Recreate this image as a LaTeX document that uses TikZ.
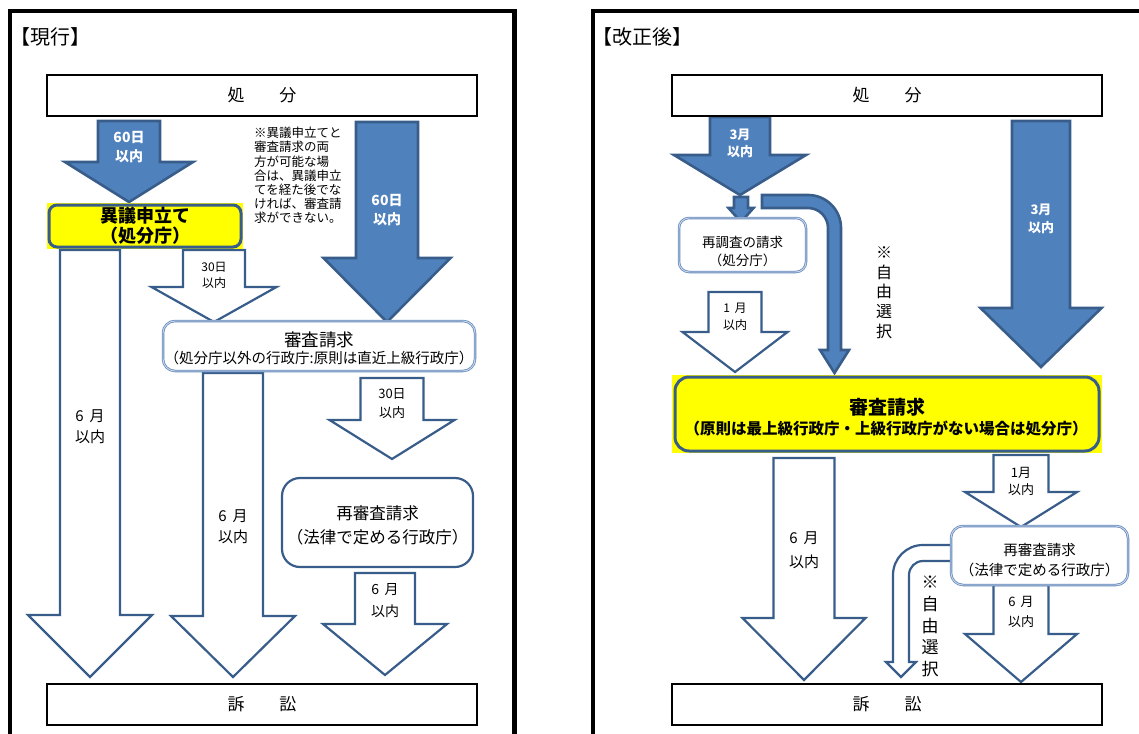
\documentclass[tikz,border=0pt]{standalone}
\usepackage{fontspec}
\setmainfont{Noto Sans CJK JP}
\definecolor{cBlue}{HTML}{4F81BD}
\definecolor{cEdge}{HTML}{385D8A}
\definecolor{cThin}{HTML}{6A8CBE}
\definecolor{cThinIn}{HTML}{C9D7EA}
\definecolor{cYel}{HTML}{FFFF00}
\newcommand{\fsz}[2]{\fontsize{#1}{#2}\selectfont}
\newcommand{\gp}{\hspace{0.4em}}
% style, cx, shaft half width, head half width, top, head start, tip
\newcommand{\myarrow}[7]{%
  \draw[#1] (#2-#3,#5) -- (#2+#3,#5) -- (#2+#3,#6) -- (#2+#4,#6) -- (#2,#7)
    -- (#2-#4,#6) -- (#2-#3,#6) -- cycle;}
\tikzset{
  frame/.style={draw=black, line width=4.5pt},
  blackbox/.style={draw=black, line width=2pt, fill=white},
  barrow/.style={fill=cBlue, draw=cEdge, line width=2.6pt, line join=miter},
  warrow/.style={fill=white, draw=cEdge, line width=2.2pt, line join=miter},
  thinbox/.style={draw=cThin, double=cThinIn, double distance=0.9pt, line width=0.8pt, fill=white},
  thickbox/.style={draw=cEdge, line width=2.2pt, fill=white},
  yelbox/.style={draw=cEdge, line width=3pt, fill=cYel},
  lbl/.style={inner sep=0pt, align=center},
  wlbl/.style={lbl, text=white, font=\bfseries\fsz{14}{19}},
}
\begin{document}
\begin{tikzpicture}[x=1pt, y=-1pt]
\useasboundingbox (0,0) rectangle (1139,733);

% ---------- frames ----------
\draw[frame] (10,740) -- (10,11) -- (514.5,11) -- (514.5,740);
\draw[frame] (593,740) -- (593,11) -- (1150,11);
\node[lbl, anchor=west, font=\fsz{20}{20}] (t1) at (10,37) {【現行】};
\node[lbl, anchor=west, font=\fsz{20}{20}] (t2) at (592,37) {【改正後】};

% ================= LEFT PANEL =================
\myarrow{barrow}{129}{31}{64}{121}{162}{202}
\myarrow{barrow}{387}{31}{63.5}{122}{258}{322}
\myarrow{warrow}{90}{30}{62}{250}{615}{677}
\myarrow{warrow}{214}{31}{62.5}{250}{287}{322}
\myarrow{warrow}{233}{30}{62}{373}{616}{677}
\myarrow{warrow}{392}{31.5}{62.5}{378}{420}{459}
\myarrow{warrow}{385}{30}{62}{573}{624}{675}

\node[blackbox, minimum width=430, minimum height=41, font=\fsz{17}{17}] (shobunL) at (262,95.5) {処\hspace{35pt}分};
\fill[cYel] (47,203) rectangle (243,249);
\draw[yelbox, rounded corners=8pt] (49,205) rectangle (241,247);
\node[lbl, font=\bfseries\fsz{18}{20}] (igi) at (145,226) {異議申立て\\（処分庁）};
\draw[thinbox, rounded corners=12pt] (163,321) rectangle (475,371);
\node[lbl, font=\fsz{17.5}{17.5}] (shinsaL) at (319,340) {審査請求};
\node[lbl, font=\fsz{14.5}{14.5}] (shinsaLsub) at (319,358) {（処分庁以外の行政庁:原則は直近上級行政庁）};
\draw[thickbox, rounded corners=18pt] (282,478) rectangle (473,567);
\node[lbl, font=\fsz{16.5}{24}] (saishinL) at (377.5,525) {再審査請求\\（法律で定める行政庁）};
\node[blackbox, minimum width=430, minimum height=41, font=\fsz{17}{17}] (soshoL) at (262,704.5) {訴\hspace{35pt}訟};

\node[wlbl] (a1) at (129,147) {60日\\以内};
\node[wlbl] (a2) at (387,210) {60日\\以内};
\node[lbl, anchor=west, align=left, font=\fsz{12.5}{14.2}] (note) at (254,175.5)
  {※異議申立てと\\審査請求の両\\方が可能な場\\合は、異議申立\\てを経た後でな\\ければ、審査請\\求ができない。};
\node[lbl, font=\fsz{15}{21}] (w1) at (90,427) {6\gp 月\\以内};
\node[lbl, font=\fsz{12}{16}] (w2) at (214,275) {30日\\以内};
\node[lbl, font=\fsz{15}{21}] (w3) at (233,527) {6\gp 月\\以内};
\node[lbl, font=\fsz{13}{19}] (w4) at (392,404) {30日\\以内};
\node[lbl, font=\fsz{14}{22}] (w5) at (385,601) {6\gp 月\\以内};

% ================= RIGHT PANEL =================
\myarrow{barrow}{740}{30}{66}{117}{155}{195}
\myarrow{barrow}{741}{7}{12.5}{197}{208}{222}
\myarrow{barrow}{1041}{29}{60.5}{121}{308}{367}
\myarrow{warrow}{735}{26.5}{52.5}{292}{332}{372}
\myarrow{warrow}{804}{30.5}{61.5}{458}{618}{680}
\myarrow{warrow}{1021}{27.5}{56}{455}{492}{527}
\myarrow{warrow}{1021}{27.5}{56}{585}{634}{682}

% bent blue arrow
\draw[barrow] (762,195) -- (808,195) arc[start angle=-90, end angle=0, radius=33]
  -- (841,350) -- (849,350) -- (834.5,373) -- (820,350) -- (828,350) -- (828,228)
  arc[start angle=0, end angle=-90, radius=20] -- (762,208) -- cycle;
% bent white arrow
\draw[warrow] (953,545) -- (923,545) arc[start angle=-90, end angle=-180, radius=30]
  -- (893,662) -- (886,662) -- (901,677) -- (916,662) -- (909,662) -- (909,575)
  arc[start angle=180, end angle=270, radius=14] -- (953,561) -- cycle;

\node[blackbox, minimum width=430, minimum height=41, font=\fsz{17}{17}] (shobunR) at (887,95.5) {処\hspace{35pt}分};
\draw[thinbox, rounded corners=10pt] (679,218) rectangle (806,272);
\node[lbl, font=\fsz{13.5}{18}] (saichosa) at (742.5,251) {再調査の請求\\（処分庁）};
\fill[cYel] (672,375) rectangle (1102,453);
\draw[yelbox, rounded corners=14pt] (675,377) rectangle (1099,451);
\node[lbl, font=\bfseries\fsz{19}{19}] (shinsaR) at (887,407) {審査請求};
\node[lbl, font=\bfseries\fsz{15.5}{15.5}] (shinsaRsub) at (886,428) {（原則は最上級行政庁・上級行政庁がない場合は処分庁）};
\draw[thinbox, rounded corners=12pt] (951,526) rectangle (1128,585);
\node[lbl, font=\fsz{14.5}{20}] (saishinR) at (1039.5,560) {再審査請求\\（法律で定める行政庁）};
\node[blackbox, minimum width=430, minimum height=41, font=\fsz{17}{17}] (soshoR) at (887,704.5) {訴\hspace{35pt}訟};

\node[lbl, text=white, font=\bfseries\fsz{13}{17}] (b1) at (740,143.5) {3月\\以内};
\node[lbl, text=white, font=\bfseries\fsz{13}{18}] (b2) at (1041,219) {3月\\以内};
\node[lbl, font=\fsz{16}{19.75}] (free1) at (884,292.5) {※\\自\\由\\選\\択};
\node[lbl, font=\fsz{12}{17}] (r1) at (735,316.5) {1\gp 月\\以内};
\node[lbl, font=\fsz{15}{24}] (r2) at (804,550) {6\gp 月\\以内};
\node[lbl, font=\fsz{13}{17}] (r3) at (1021,481) {1月\\以内};
\node[lbl, font=\fsz{13}{20}] (r4) at (1021,612) {6\gp 月\\以内};
\node[lbl, font=\fsz{17}{21.75}] (free2) at (930,626.5) {※\\自\\由\\選\\択};
\end{tikzpicture}
\end{document}
